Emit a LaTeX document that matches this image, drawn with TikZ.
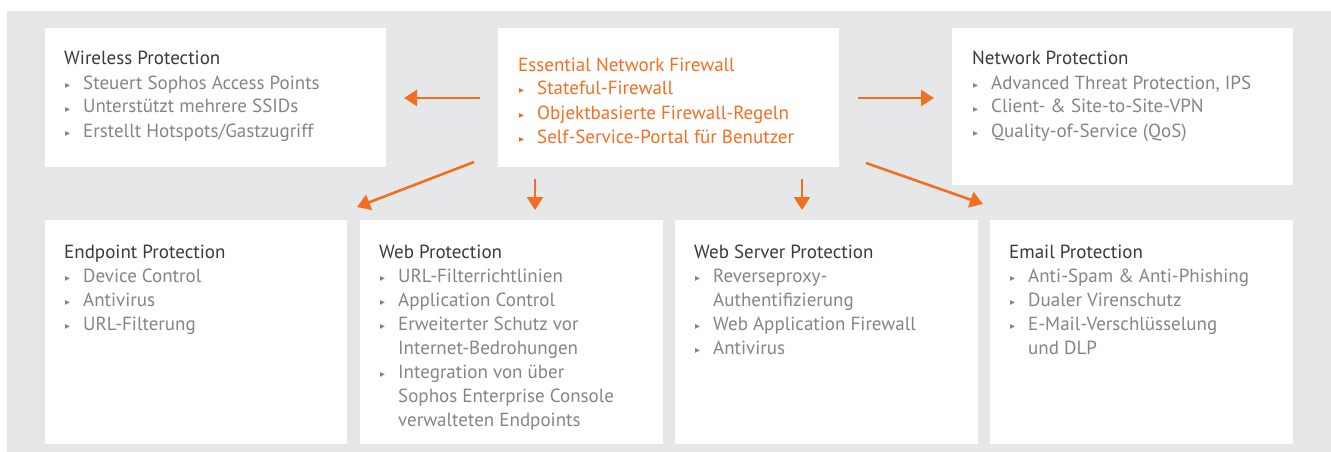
\documentclass[tikz,border=0pt]{standalone}
\usepackage{fontspec}
\setmainfont{PT Sans}
\newfontfamily\dejavu{DejaVu Sans}
\usetikzlibrary{arrows.meta}
\definecolor{bggray}{HTML}{E6E7E8}
\definecolor{titlec}{HTML}{3A3A3A}
\definecolor{itemc}{HTML}{858585}
\definecolor{orng}{HTML}{F26F21}
\newcommand\bl{\makebox[19pt][l]{\hspace{1pt}\raisebox{1pt}{\dejavu\fontsize{10}{10}\selectfont ▸}}}
\tikzset{
  panel/.style={fill=white, draw=none, anchor=north west, inner sep=0pt, outer sep=0pt},
  ttl/.style={anchor=base west, inner sep=0pt, text=titlec, font=\fontsize{19}{22}\selectfont},
  itm/.style={ttl, text=itemc},
  otl/.style={ttl, text=orng},
  arr/.style={draw=orng, line width=2.6pt, -{Triangle[length=13pt,width=16pt]}}
}
\begin{document}
\begin{tikzpicture}[x=1pt,y=-1pt]
\useasboundingbox (0,0) rectangle (1331,452);
\fill[bggray] (7,11) rectangle (1331,452);
% panels
\node[panel, minimum width=341pt, minimum height=139pt] (wl) at (45,28) {};
\node[panel, minimum width=341pt, minimum height=139pt] (fw) at (498,28) {};
\node[panel, minimum width=341pt, minimum height=157pt] (nw) at (952,28) {};
\node[panel, minimum width=302pt, minimum height=224pt] (ep) at (45,220) {};
\node[panel, minimum width=303pt, minimum height=224pt] (wp) at (360,220) {};
\node[panel, minimum width=303pt, minimum height=224pt] (ws) at (675,220) {};
\node[panel, minimum width=303pt, minimum height=224pt] (em) at (990,220) {};
% wireless
\node[ttl] (wl0) at (64,65) {Wireless Protection};
\node[itm] (wl1) at (64,89) {\bl Steuert Sophos Access Points};
\node[itm] (wl2) at (64,113) {\bl Unterstützt mehrere SSIDs};
\node[itm] (wl3) at (64,137) {\bl Erstellt Hotspots/Gastzugriff};
% firewall
\node[otl] (fw0) at (518,71) {Essential Network Firewall};
\node[otl] (fw1) at (518,95) {\bl Stateful-Firewall};
\node[otl] (fw2) at (518,119) {\bl Objektbasierte Firewall-Regeln};
\node[otl] (fw3) at (518,143) {\bl Self-Service-Portal für Benutzer};
% network
\node[ttl] (nw0) at (972,65) {Network Protection};
\node[itm] (nw1) at (972,89) {\bl Advanced Threat Protection, IPS};
\node[itm] (nw2) at (972,113) {\bl Client- \& Site-to-Site-VPN};
\node[itm] (nw3) at (972,137) {\bl Quality-of-Service (QoS)};
% endpoint
\node[ttl] (ep0) at (64,258) {Endpoint Protection};
\node[itm] (ep1) at (64,282) {\bl Device Control};
\node[itm] (ep2) at (64,306) {\bl Antivirus};
\node[itm] (ep3) at (64,330) {\bl URL-Filterung};
% web
\node[ttl] (wp0) at (379,258) {Web Protection};
\node[itm] (wp1) at (379,282) {\bl URL-Filterrichtlinien};
\node[itm] (wp2) at (379,306) {\bl Application Control};
\node[itm] (wp3) at (379,330) {\bl Erweiterter Schutz vor};
\node[itm] (wp4) at (398,354) {Internet-Bedrohungen};
\node[itm] (wp5) at (379,378) {\bl Integration von über};
\node[itm] (wp6) at (398,402) {Sophos Enterprise Console};
\node[itm] (wp7) at (398,426) {verwalteten Endpoints};
% web server
\node[ttl] (ws0) at (694,258) {Web Server Protection};
\node[itm] (ws1) at (694,282) {\bl Reverseproxy-};
\node[itm] (ws2) at (713,306) {Authentifizierung};
\node[itm] (ws3) at (694,330) {\bl Web Application Firewall};
\node[itm] (ws4) at (694,354) {\bl Antivirus};
% email
\node[ttl] (em0) at (1009,258) {Email Protection};
\node[itm] (em1) at (1009,282) {\bl Anti-Spam \& Anti-Phishing};
\node[itm] (em2) at (1009,306) {\bl Dualer Virenschutz};
\node[itm] (em3) at (1009,330) {\bl E-Mail-Verschlüsselung};
\node[itm] (em4) at (1028,354) {und DLP};
% arrow end points
\coordinate (aL1) at (480,98);  \coordinate (aL2) at (404,98);
\coordinate (aR1) at (858,98);  \coordinate (aR2) at (934,98);
\coordinate (aD1) at (535,179); \coordinate (aD2) at (535,210);
\coordinate (aE1) at (802,179); \coordinate (aE2) at (802,210);
\coordinate (aG1) at (474,162); \coordinate (aG2) at (357,207);
\coordinate (aH1) at (866,163); \coordinate (aH2) at (983,204);
\draw[arr] (aL1) -- (aL2);
\draw[arr] (aR1) -- (aR2);
\draw[arr] (aD1) -- (aD2);
\draw[arr] (aE1) -- (aE2);
\draw[arr] (aG1) -- (aG2);
\draw[arr] (aH1) -- (aH2);
\end{tikzpicture}
\end{document}
